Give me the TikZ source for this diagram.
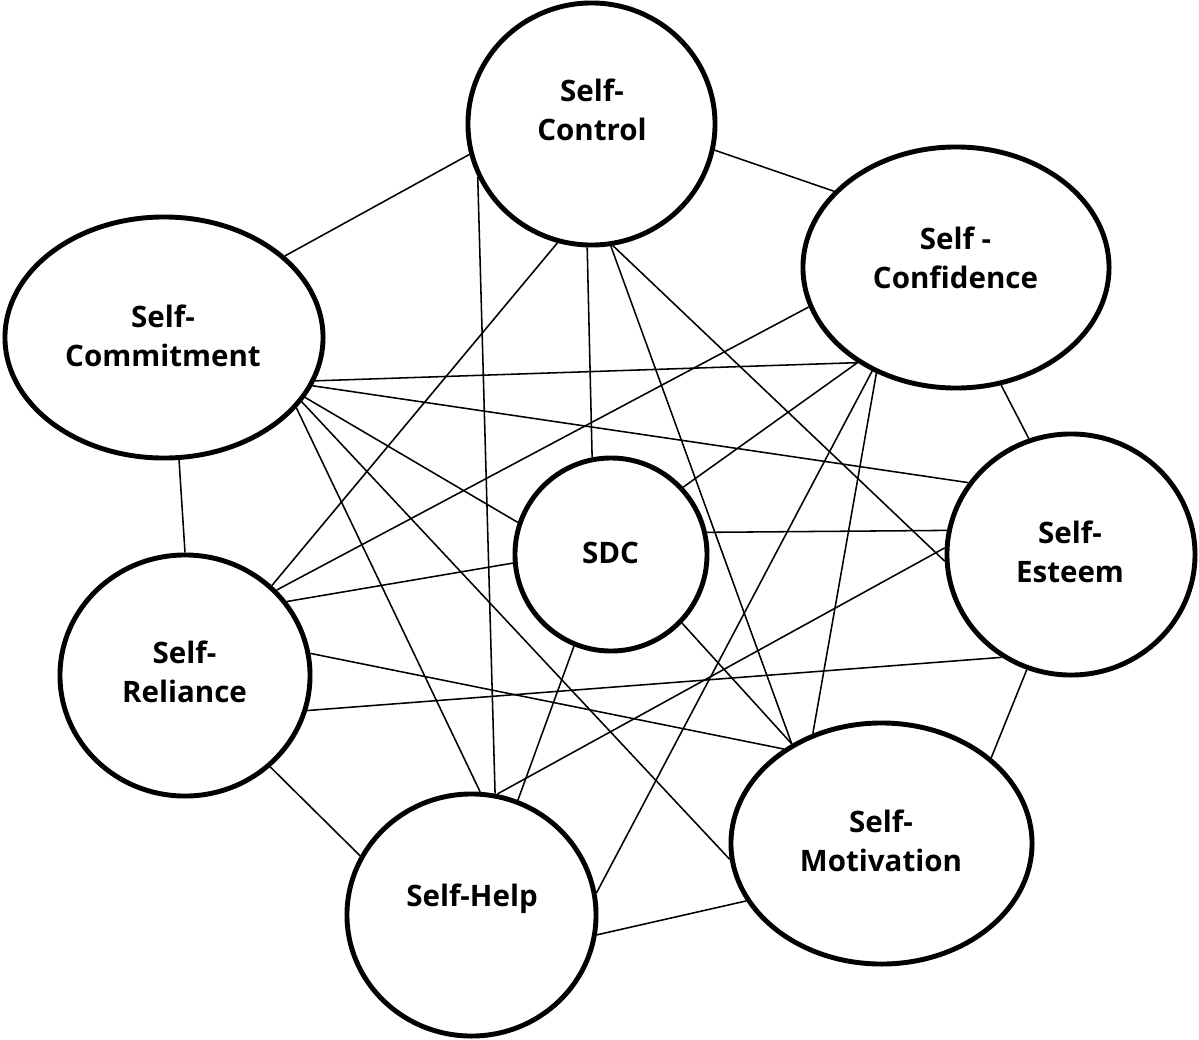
\documentclass[tikz,border=0pt]{standalone}
\usepackage{fontspec}
\setmainfont{Open Sans}
\usetikzlibrary{shapes.geometric}
\begin{document}
\begin{tikzpicture}[x=0.025cm,y=-0.025cm,
  bubble/.style={draw=black,line width=3.5pt,ellipse,inner sep=0pt},
  caption/.style={font=\bfseries\fontsize{21}{27.7}\selectfont,align=center,inner sep=0pt,text=black},
  link/.style={draw=black,line width=1.1pt}]
\useasboundingbox (0,0) rectangle (1199,1040);

% the eight concepts
\node[bubble,minimum width=6.175cm,minimum height=6.05cm]  (ctrl) at (591.5,124)   {};
\node[bubble,minimum width=7.65cm, minimum height=6.025cm] (conf) at (956,267.5)   {};
\node[bubble,minimum width=7.95cm, minimum height=6.025cm] (comm) at (164,337.5)   {};
\node[bubble,minimum width=4.8cm,  minimum height=4.825cm] (sdc)  at (611,554.5)   {};
\node[bubble,minimum width=6.2cm,  minimum height=6.025cm] (este) at (1071,554.5)  {};
\node[bubble,minimum width=6.25cm, minimum height=6.025cm] (reli) at (185,675.5)   {};
\node[bubble,minimum width=6.225cm,minimum height=6.05cm]  (help) at (471.5,915)   {};
\node[bubble,minimum width=7.525cm,minimum height=6.025cm] (moti) at (881.5,843.5) {};

% their labels
\node[caption] (ctrl-t) at (592,110.3)   {Self-\\Control};
\node[caption] (conf-t) at (955.5,257.8) {Self -\\Confidence};
\node[caption] (comm-t) at (163,336.3)   {Self-\\Commitment};
\node[caption] (reli-t) at (184.5,671.8) {Self-\\Reliance};
\node[caption] (este-t) at (1070,551.6)  {Self-\\Esteem};
\node[caption] (moti-t) at (881,840.8)   {Self-\\Motivation};
\node[caption,anchor=base] (sdc-t)  at (610.5,563) {SDC};
\node[caption,anchor=base] (help-t) at (472,906.7) {Self-Help};

% every pair of concepts is linked
\draw[link] (ctrl.194.2) -- (comm.34.3);
\draw[link] (ctrl.348.2) -- (conf.148.1);
\draw[link] (ctrl.254.3) -- (reli.46.8);
\draw[link] (ctrl.205.4) -- (help.79.5);
\draw[link] (ctrl.268.4) -- (sdc.101.6);
\draw[link] (ctrl.279.1) -- (moti.132.9);
\draw[link] (ctrl.280.4) -- (este.183.4);
\draw[link] (comm.277.3) -- (reli.90.9);
\draw[link] (comm.344.45) -- (conf.224.4);
\draw[link] (comm.342.3) -- (este.145.2);
\draw[link] (comm.337.65) -- (sdc.161.5);
\draw[link] (comm.335.3) -- (moti.186.2);
\draw[link] (comm.332.2) -- (help.86.0);
\draw[link] (conf.195.7) -- (reli.43.9);
\draw[link] (conf.224.6) -- (sdc.43.6);
\draw[link] (conf.231.6) -- (help.10.4);
\draw[link] (conf.233.1) -- (moti.122.4);
\draw[link] (conf.291.8) -- (este.110.4);
\draw[link] (sdc.13.9) -- (este.169.3);
\draw[link] (sdc.316.4) -- (moti.132.9);
\draw[link] (sdc.248.3) -- (help.68.0);
\draw[link] (sdc.185.0) -- (reli.36.5);
\draw[link] (reli.10.2) -- (moti.136.2);
\draw[link] (reli.344.2) -- (este.236.9);
\draw[link] (reli.313.6) -- (help.152.1);
\draw[link] (help.78.2) -- (este.177.0);
\draw[link] (help.351.0) -- (moti.203.9);
\draw[link] (este.249.5) -- (moti.38.9);
\end{tikzpicture}
\end{document}
